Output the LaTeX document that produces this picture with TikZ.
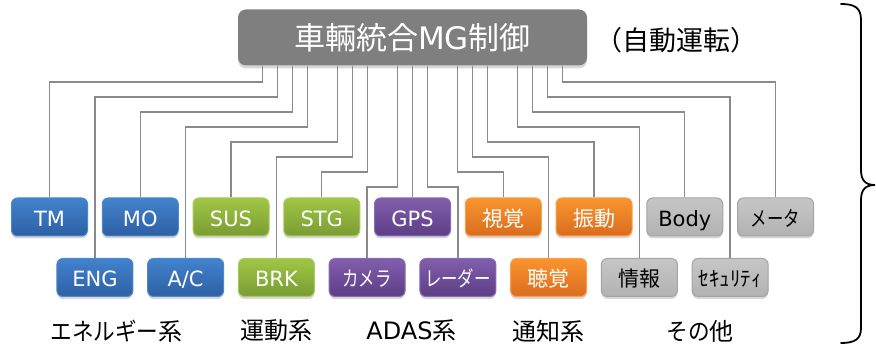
\documentclass[tikz,border=0pt]{standalone}
\usepackage{fontspec}
\setmainfont{DejaVu Sans}
\newfontfamily\jp{Noto Sans CJK JP}
\newfontfamily\jpn[FakeStretch=0.78]{Noto Sans CJK JP}
\newfontfamily\jpm[FakeStretch=0.9]{Noto Sans CJK JP}
\usetikzlibrary{shadows}
\definecolor{bluet}{HTML}{4282CE}
\definecolor{blueb}{HTML}{2E60A3}
\definecolor{bluee}{HTML}{4A88CC}
\definecolor{greent}{HTML}{A0C646}
\definecolor{greenb}{HTML}{7A9C33}
\definecolor{greene}{HTML}{AACB5C}
\definecolor{purpt}{HTML}{815EAC}
\definecolor{purpb}{HTML}{5C3E86}
\definecolor{purpe}{HTML}{8A6BB2}
\definecolor{orgt}{HTML}{F9952F}
\definecolor{orgb}{HTML}{DA6C1E}
\definecolor{orge}{HTML}{F9A04A}
\definecolor{greyt}{HTML}{C6C6C6}
\definecolor{greyb}{HTML}{B2B2B2}
\definecolor{greye}{HTML}{A4A4A4}
\definecolor{wirec}{HTML}{8A8A8A}
\definecolor{maing}{HTML}{7F7F7F}
\tikzset{
  box/.style={rounded corners=6pt, minimum width=76pt, minimum height=38pt, inner sep=0pt,
    text height=19pt, text depth=0pt,
    line width=1pt, font=\fontsize{21}{21}\selectfont,
    drop shadow={shadow xshift=0pt, shadow yshift=-2.5pt, opacity=.3}},
  bluebox/.style={box, top color=bluet, bottom color=blueb, draw=bluee, text=white},
  greenbox/.style={box, top color=greent, bottom color=greenb, draw=greene, text=white},
  purpbox/.style={box, top color=purpt, bottom color=purpb, draw=purpe, text=white},
  orgbox/.style={box, top color=orgt, bottom color=orgb, draw=orge, text=white},
  greybox/.style={box, top color=greyt, bottom color=greyb, draw=greye, text=black},
  mainbox/.style={rounded corners=8pt, minimum width=349pt, minimum height=56pt, inner sep=0pt,
    fill=maing, text=white, font=\fontsize{31}{31}\selectfont,
    drop shadow={shadow xshift=0pt, shadow yshift=-3pt, opacity=.3}},
  wire/.style={draw=wirec, line width=1.4pt},
  grouplabel/.style={font=\fontsize{24}{24}\selectfont, text=black, inner sep=0pt},
}
\newcommand\wireto[3]{\draw[wire] ([xshift=#1pt]main.south) -- ++(0,#2) -| (#3.north);}
\begin{document}
\begin{tikzpicture}[x=1pt,y=-1pt]
\useasboundingbox[fill=white] (0,0) rectangle (876,347);
% main controller
\node[mainbox] (main) at (412.5,37.5) {\raisebox{-4pt}{{\jp 車輛統合}MG{\jp 制御}}};
\node[font=\fontsize{27}{27}\selectfont\jp, inner sep=0pt] (auto) at (676,40) {（自動運転）};
% top row
\node[bluebox]  (TM)   at (49.5,217)   {TM};
\node[bluebox]  (MO)   at (140.25,217) {MO};
\node[greenbox] (SUS)  at (231,217)    {SUS};
\node[greenbox] (STG)  at (321.75,217) {STG};
\node[purpbox]  (GPS)  at (412.5,217)  {GPS};
\node[orgbox]   (SHI)  at (503.25,217) {\jp 視覚};
\node[orgbox]   (SIN)  at (594,217)    {\jp 振動};
\node[greybox]  (BODY) at (684.75,217) {Body};
\node[greybox]  (METER) at (775.5,217) {\jpn メータ};
% bottom row
\node[bluebox]  (ENG)  at (94.9,277.5)  {ENG};
\node[bluebox]  (AC)   at (185.6,277.5) {A/C};
\node[greenbox] (BRK)  at (276.4,277.5) {BRK};
\node[purpbox]  (CAM)  at (367.1,277.5) {\jpn カメラ};
\node[purpbox]  (RAD)  at (457.9,277.5) {\jpn レーダー};
\node[orgbox]   (CHO)  at (548.6,277.5) {\jp 聴覚};
\node[greybox]  (INFO) at (639.4,277.5) {\jp 情報};
\node[greybox]  (SEC)  at (730.1,277.5) {\jp ｾｷｭﾘﾃｨ};
% connectors
\wireto{-150}{16.2}{TM}
\wireto{-135}{31.2}{ENG}
\wireto{-120}{46.2}{MO}
\wireto{-105}{61.2}{AC}
\wireto{-75}{76.2}{SUS}
\wireto{-60}{91.2}{BRK}
\wireto{-45}{106.2}{STG}
\wireto{-15}{121.2}{CAM}
\draw[wire] (main.south) -- (GPS.north);
\wireto{15}{121.2}{RAD}
\wireto{45}{106.2}{SHI}
\wireto{60}{91.2}{CHO}
\wireto{75}{76.2}{SIN}
\wireto{105}{61.2}{INFO}
\wireto{120}{46.2}{BODY}
\wireto{135}{31.2}{SEC}
\wireto{150}{16.2}{METER}
% group labels
\node[grouplabel] (g1) at (116.5,331) {\jpm エネルギー{\jp 系}};
\node[grouplabel] (g2) at (276,331) {\jp 運動系};
\node[grouplabel] (g3) at (411.5,331) {ADAS{\jp 系}};
\node[grouplabel] (g4) at (548.5,331) {\jp 通知系};
\node[grouplabel] (g5) at (700,331) {{\jpm その}{\jp 他}};
% brace
\draw[line width=1.8pt, line cap=round] (841,4) .. controls (855,4) and (861,8) .. (861,20) -- (861,170)
  .. controls (861,181) and (866,185) .. (875,185)
  .. controls (866,185) and (861,189) .. (861,200) -- (861,328)
  .. controls (861,339) and (855,343) .. (841,343);
\end{tikzpicture}
\end{document}
